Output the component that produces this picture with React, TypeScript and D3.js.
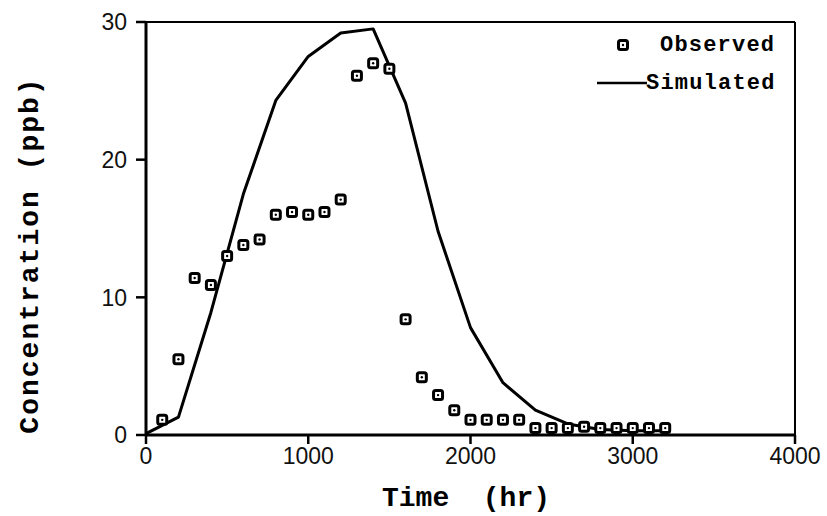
import React from 'react';
import * as d3 from 'd3';

// Observed concentrations, every 100 hr
const obsTime = [100, 200, 300, 400, 500, 600, 700, 800, 900, 1000, 1100, 1200, 1300, 1400, 1500, 1600,
  1700, 1800, 1900, 2000, 2100, 2200, 2300, 2400, 2500, 2600, 2700, 2800, 2900, 3000, 3100, 3200];
const obsConc = [1.1, 5.5, 11.4, 10.9, 13.0, 13.8, 14.2, 16.0, 16.2, 16.0, 16.2, 17.1, 26.1, 27.0, 26.6, 8.4,
  4.2, 2.9, 1.8, 1.1, 1.1, 1.1, 1.1, 0.5, 0.5, 0.5, 0.6, 0.5, 0.5, 0.5, 0.5, 0.5];

// Simulated curve
const simTime = [0, 200, 400, 600, 800, 1000, 1200, 1400, 1600, 1800, 2000, 2200, 2400, 2600, 2800, 3000, 3200];
const simConc = [0.1, 1.3, 8.9, 17.5, 24.3, 27.5, 29.2, 29.5, 24.1, 14.8, 7.8, 3.8, 1.8, 0.8, 0.4, 0.3, 0.3];

const xTicks = [0, 1000, 2000, 3000, 4000];
const yTicks = [0, 10, 20, 30];

const W = 827;
const H = 516;
const mono = '"Liberation Mono", "Courier New", monospace';
const sans = '"Liberation Sans", Arial, sans-serif';

const Marker: React.FC<{ x: number; y: number }> = ({ x, y }) => (
  <g transform={`translate(${x},${y})`}>
    <rect x={-4.5} y={-4.5} width={9} height={9} rx={2} fill="#fff" stroke="#000" strokeWidth={3} />
    <circle r={1.2} fill="#000" />
  </g>
);

const App: React.FC = () => {
  const x = d3.scaleLinear().domain([0, 4000]).range([146, 795]);
  const y = d3.scaleLinear().domain([0, 30]).range([435, 22]);

  const line = d3.line<number>()
    .x((_, i) => x(simTime[i]))
    .y(d => y(d));

  return (
    <svg width={W} height={H} style={{ position: 'absolute', left: 0, top: 0, background: '#fff' }}>
      {/* frame */}
      <line x1={x(0)} x2={x(4000)} y1={y(30)} y2={y(30)} stroke="#000" strokeWidth={2} />
      <line x1={x(4000)} x2={x(4000)} y1={y(30)} y2={y(0)} stroke="#000" strokeWidth={2} />
      <line x1={x(0)} x2={x(0)} y1={y(30) - 1} y2={y(0) + 1} stroke="#000" strokeWidth={3} />
      <line x1={x(0) - 1} x2={x(4000) + 1} y1={y(0)} y2={y(0)} stroke="#000" strokeWidth={3} />

      {/* y ticks */}
      {yTicks.map(t => (
        <g key={`y${t}`}>
          <line x1={x(0) - 10} x2={x(0)} y1={y(t)} y2={y(t)} stroke="#000" strokeWidth={2.5} />
          <text x={x(0) - 19} y={y(t)} dy="0.36em" textAnchor="end" fontFamily={sans} fontSize={23} fill="#111">{t}</text>
        </g>
      ))}

      {/* x ticks */}
      {xTicks.map(t => (
        <g key={`x${t}`}>
          <line x1={x(t)} x2={x(t)} y1={y(0)} y2={y(0) + 9} stroke="#000" strokeWidth={2.5} />
          <text x={x(t)} y={464} textAnchor="middle" fontFamily={sans} fontSize={23} fill="#111">{t}</text>
        </g>
      ))}

      {/* simulated */}
      <path d={line(simConc) || ''} fill="none" stroke="#000" strokeWidth={3} strokeLinejoin="round" />

      {/* observed */}
      {obsConc.map((c, i) => (
        <Marker key={i} x={x(obsTime[i])} y={y(c)} />
      ))}

      {/* legend */}
      <Marker x={623} y={45} />
      <text x={660} y={51} fontFamily={mono} fontWeight="bold" fontSize={22} letterSpacing={1.2} fill="#000">Observed</text>
      <line x1={597} x2={647} y1={83} y2={83} stroke="#000" strokeWidth={2.5} />
      <text x={646} y={89} fontFamily={mono} fontWeight="bold" fontSize={22} letterSpacing={1.2} fill="#000">Simulated</text>

      {/* axis titles */}
      <text x={466} y={506} textAnchor="middle" fontFamily={mono} fontWeight="bold" fontSize={28} fill="#000" xmlSpace="preserve">Time  (hr)</text>
      <text transform="translate(38,255) rotate(-90)" textAnchor="middle" fontFamily={mono} fontWeight="bold" fontSize={28} letterSpacing={2} fill="#000">Concentration (ppb)</text>
    </svg>
  );
};

export default App;
